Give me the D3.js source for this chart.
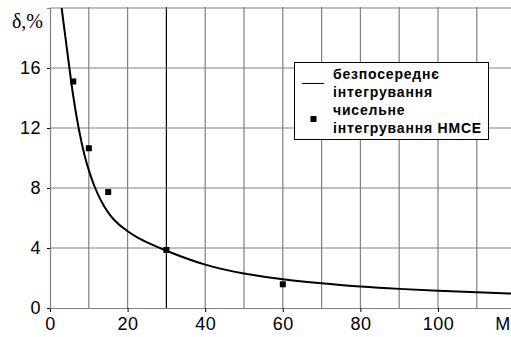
<!DOCTYPE html>
<html>
<head>
<meta charset="utf-8">
<script src="https://cdn.jsdelivr.net/npm/d3@7"></script>
<style>
body{margin:0;background:#fff;}
svg{display:block;}
</style>
</head>
<body>
<script>
// curve: direct integration
var curveM=[3,5,5.85,7.3,9,10.1,11.2,13.1,16.2,20,22.8,25,30,40,50,60,70,80,90,100,110,120];
var curveD=[20,16,14.3,12,10,9.1,8.25,7.1,5.85,5.1,4.65,4.38,3.8,2.82,2.27,1.9,1.65,1.42,1.27,1.15,1.05,0.95];
// points: numerical integration
var ptM=[6,10,15,30,60];
var ptD=[15.1,10.65,7.73,3.87,1.58];
var xTicks=[0,20,40,60,80,100];
var yTicks=[0,4,8,12,16];
var legendText=["безпосереднє","інтегрування","чисельне","інтегрування НМСЕ"];

var W=511,H=337;
var x=d3.scaleLinear().domain([0,120]).range([50,515.6]);
var y=d3.scaleLinear().domain([0,20]).range([308,8]);

var svg=d3.select("body").append("svg")
    .attr("width",W).attr("height",H);

// grid
svg.selectAll(".vg").data(d3.range(10,121,10)).enter().append("line")
    .attr("x1",function(d){return x(d);}).attr("x2",function(d){return x(d);})
    .attr("y1",y(20)-1).attr("y2",y(0))
    .attr("stroke",function(d){return d==30?"#000":"#808080";})
    .attr("stroke-width",1.2);
svg.selectAll(".hg").data([4,8,12,16,20]).enter().append("line")
    .attr("x1",x(0)).attr("x2",W)
    .attr("y1",function(d){return y(d);}).attr("y2",function(d){return y(d);})
    .attr("stroke","#808080").attr("stroke-width",1.2);

// axes
var xAxis=svg.append("g").attr("transform","translate(0,"+y(0)+")")
    .call(d3.axisBottom(x).tickValues(xTicks.concat([120])).tickSize(4).tickPadding(5)
        .tickFormat(function(d){return d==120?"M":d;}));
xAxis.select(".domain").attr("stroke","#808080").attr("stroke-width",1.2);
xAxis.selectAll(".tick line").attr("stroke","#000");
xAxis.selectAll("text").attr("font-family","Liberation Sans, Arial").attr("font-size",18)
    .attr("letter-spacing",0.5).attr("fill","#000");
xAxis.selectAll(".tick").filter(function(d){return d==120;}).select("text").attr("x",-13);

var yAxis=svg.append("g").attr("transform","translate("+x(0)+",0)")
    .call(d3.axisLeft(y).tickValues(yTicks).tickSize(3).tickPadding(6));
yAxis.select(".domain").attr("stroke","#808080").attr("stroke-width",1.2);
yAxis.selectAll(".tick line").attr("stroke","#000");
yAxis.selectAll("text").attr("font-family","Liberation Sans, Arial").attr("font-size",18)
    .attr("letter-spacing",0.5).attr("fill","#000");

svg.append("text").attr("x",43).attr("y",28).attr("text-anchor","end")
    .attr("font-family","Liberation Serif, Times New Roman").attr("font-size",20)
    .text("δ,%");

// curve
var line=d3.line().x(function(d,i){return x(curveM[i]);}).y(function(d){return y(d);})
    .curve(d3.curveBasis);
svg.append("path").datum(curveD).attr("d",line)
    .attr("fill","none").attr("stroke","#000").attr("stroke-width",2);

// points
svg.selectAll(".pt").data(ptD).enter().append("rect")
    .attr("x",function(d,i){return x(ptM[i])-3;})
    .attr("y",function(d){return y(d)-3;})
    .attr("width",6).attr("height",6).attr("fill","#000");

// legend
var lg=svg.append("g");
lg.append("rect").attr("x",294.5).attr("y",62.5).attr("width",194).attr("height",77)
    .attr("fill","#fff").attr("stroke","#000").attr("stroke-width",1);
lg.append("line").attr("x1",302).attr("x2",324).attr("y1",83.5).attr("y2",83.5)
    .attr("stroke","#000").attr("stroke-width",1);
lg.append("rect").attr("x",310.5).attr("y",116).attr("width",6).attr("height",6).attr("fill","#000");
lg.selectAll("text").data(legendText).enter().append("text")
    .attr("x",333).attr("y",function(d,i){return 79+i*18;})
    .attr("font-family","Liberation Sans, Arial").attr("font-weight","bold").attr("font-size",14)
    .attr("letter-spacing",0.8)
    .text(function(d){return d;});
</script>
</body>
</html>
